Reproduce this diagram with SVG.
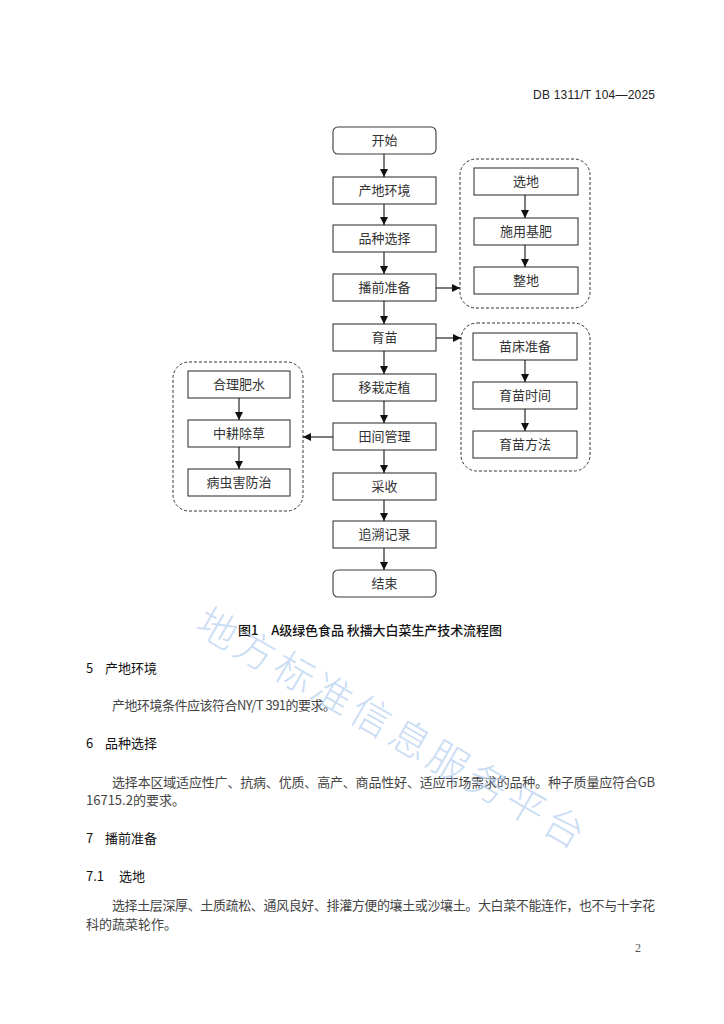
<svg xmlns="http://www.w3.org/2000/svg" width="724" height="1024" viewBox="0 0 724 1024">
<style>
.bx{fill:#fff;stroke:#3a3a3a;stroke-width:1.1}
.grp{fill:none;stroke:#333;stroke-width:1;stroke-dasharray:3 2}
.t{font-family:"Noto Sans CJK SC","Noto Sans",sans-serif;font-size:13px;fill:#333;text-anchor:middle}
.ln{stroke:#111;stroke-width:1.1;fill:none}
.body{font-family:"Noto Sans CJK SC","Liberation Serif",sans-serif;font-size:13px;fill:#444}
.hd{font-family:"Noto Sans CJK SC","Liberation Sans",sans-serif;font-size:13px;fill:#111}
.wm{font-family:"Noto Sans CJK SC",sans-serif;font-size:40px;font-weight:300;fill:#b9d2f1;fill-opacity:0.75;text-anchor:middle}
</style>
<defs>
<marker id="ah" viewBox="0 0 10 10" refX="10" refY="5" markerWidth="8" markerHeight="8" markerUnits="userSpaceOnUse" orient="auto">
<path d="M0,0 L10,5 L0,10 z" fill="#111"/>
</marker>
</defs>
<rect width="724" height="1024" fill="#fff"/>
<text x="655" y="99" font-family="Liberation Sans, sans-serif" font-size="12" fill="#222" text-anchor="end" textLength="122">DB 1311/T 104—2025</text>

<g id="n-start"><rect class="bx" x="333" y="127" width="103" height="27" rx="5"/><text class="t" x="384.5" y="145">开始</text></g>
<g id="n-env"><rect class="bx" x="333" y="177" width="103" height="27"/><text class="t" x="384.5" y="195">产地环境</text></g>
<g id="n-variety"><rect class="bx" x="333" y="225" width="103" height="27"/><text class="t" x="384.5" y="243">品种选择</text></g>
<g id="n-prep"><rect class="bx" x="333" y="274" width="103" height="27"/><text class="t" x="384.5" y="292">播前准备</text></g>
<g id="n-seedling"><rect class="bx" x="333" y="324" width="103" height="27"/><text class="t" x="384.5" y="342">育苗</text></g>
<g id="n-transplant"><rect class="bx" x="333" y="374" width="103" height="27"/><text class="t" x="384.5" y="392">移栽定植</text></g>
<g id="n-field"><rect class="bx" x="333" y="423" width="103" height="27"/><text class="t" x="384.5" y="441">田间管理</text></g>
<g id="n-harvest"><rect class="bx" x="333" y="473" width="103" height="27"/><text class="t" x="384.5" y="491">采收</text></g>
<g id="n-trace"><rect class="bx" x="333" y="521" width="103" height="27"/><text class="t" x="384.5" y="539">追溯记录</text></g>
<g id="n-end"><rect class="bx" x="333" y="570" width="103" height="27" rx="5"/><text class="t" x="384.5" y="588">结束</text></g>

<g id="g-prep">
<rect class="grp" x="460" y="159" width="130" height="149" rx="16"/>
<g id="n-site"><rect class="bx" x="474" y="168" width="104" height="27"/><text class="t" x="526" y="186">选地</text></g>
<g id="n-fert"><rect class="bx" x="474" y="218" width="104" height="27"/><text class="t" x="526" y="236">施用基肥</text></g>
<g id="n-land"><rect class="bx" x="474" y="267" width="104" height="27"/><text class="t" x="526" y="285">整地</text></g>
</g>
<g id="g-seed">
<rect class="grp" x="461" y="323" width="129" height="148" rx="16"/>
<g id="n-bed"><rect class="bx" x="473" y="333" width="104" height="27"/><text class="t" x="525" y="351">苗床准备</text></g>
<g id="n-time"><rect class="bx" x="473" y="382" width="104" height="27"/><text class="t" x="525" y="400">育苗时间</text></g>
<g id="n-method"><rect class="bx" x="473" y="431" width="104" height="27"/><text class="t" x="525" y="449">育苗方法</text></g>
</g>
<g id="g-field">
<rect class="grp" x="173" y="362" width="130" height="149" rx="16"/>
<g id="n-water"><rect class="bx" x="188" y="371" width="102" height="27"/><text class="t" x="239" y="389">合理肥水</text></g>
<g id="n-weed"><rect class="bx" x="188" y="420" width="102" height="27"/><text class="t" x="239" y="438">中耕除草</text></g>
<g id="n-pest"><rect class="bx" x="188" y="469" width="102" height="27"/><text class="t" x="239" y="487">病虫害防治</text></g>
</g>

<g id="connectors">
<line class="ln" x1="384" y1="154" x2="384" y2="177" marker-end="url(#ah)"/>
<line class="ln" x1="384" y1="204" x2="384" y2="225" marker-end="url(#ah)"/>
<line class="ln" x1="384" y1="252" x2="384" y2="274" marker-end="url(#ah)"/>
<line class="ln" x1="384" y1="301" x2="384" y2="324" marker-end="url(#ah)"/>
<line class="ln" x1="384" y1="351" x2="384" y2="374" marker-end="url(#ah)"/>
<line class="ln" x1="384" y1="401" x2="384" y2="423" marker-end="url(#ah)"/>
<line class="ln" x1="384" y1="450" x2="384" y2="473" marker-end="url(#ah)"/>
<line class="ln" x1="384" y1="500" x2="384" y2="521" marker-end="url(#ah)"/>
<line class="ln" x1="384" y1="548" x2="384" y2="570" marker-end="url(#ah)"/>
<line class="ln" x1="436" y1="288" x2="460" y2="288" marker-end="url(#ah)"/>
<line class="ln" x1="436" y1="338" x2="461" y2="338" marker-end="url(#ah)"/>
<line class="ln" x1="333" y1="437" x2="303" y2="437" marker-end="url(#ah)"/>
<line class="ln" x1="525" y1="195" x2="525" y2="218" marker-end="url(#ah)"/>
<line class="ln" x1="525" y1="245" x2="525" y2="267" marker-end="url(#ah)"/>
<line class="ln" x1="525" y1="360" x2="525" y2="382" marker-end="url(#ah)"/>
<line class="ln" x1="525" y1="409" x2="525" y2="431" marker-end="url(#ah)"/>
<line class="ln" x1="239" y1="398" x2="239" y2="420" marker-end="url(#ah)"/>
<line class="ln" x1="239" y1="447" x2="239" y2="469" marker-end="url(#ah)"/>
</g>

<text class="hd" x="370" y="635" text-anchor="middle" font-weight="500" textLength="264">图1　A级绿色食品 秋播大白菜生产技术流程图</text>

<text class="hd" x="86" y="673">5</text><text class="hd" x="105" y="673">产地环境</text>
<text class="body" x="112" y="710" textLength="224">产地环境条件应该符合NY/T 391的要求。</text>
<text class="hd" x="86" y="748">6</text><text class="hd" x="105" y="748">品种选择</text>
<text class="body" x="112" y="787" textLength="543">选择本区域适应性广、抗病、优质、高产、商品性好、适应市场需求的品种。种子质量应符合GB</text>
<text class="body" x="86" y="805">16715.2的要求。</text>
<text class="hd" x="86" y="843">7</text><text class="hd" x="105" y="843">播前准备</text>
<text class="hd" x="86" y="881">7.1</text><text class="hd" x="119" y="881">选地</text>
<text class="body" x="112" y="910" textLength="543">选择土层深厚、土质疏松、通风良好、排灌方便的壤土或沙壤土。大白菜不能连作，也不与十字花</text>
<text class="body" x="86" y="929">科的蔬菜轮作。</text>
<text x="638" y="952" font-family="Liberation Serif, serif" font-size="12" fill="#555" text-anchor="middle">2</text>

<g id="watermark">
<text class="wm" transform="translate(210,641) rotate(30)">地</text>
<text class="wm" transform="translate(248,663) rotate(30)">方</text>
<text class="wm" transform="translate(287,685) rotate(30)">标</text>
<text class="wm" transform="translate(325,707) rotate(30)">准</text>
<text class="wm" transform="translate(364,729) rotate(30)">信</text>
<text class="wm" transform="translate(403,752) rotate(30)">息</text>
<text class="wm" transform="translate(441,774) rotate(30)">服</text>
<text class="wm" transform="translate(480,796) rotate(30)">务</text>
<text class="wm" transform="translate(518,818) rotate(30)">平</text>
<text class="wm" transform="translate(557,840) rotate(30)">台</text>
</g>
</svg>
